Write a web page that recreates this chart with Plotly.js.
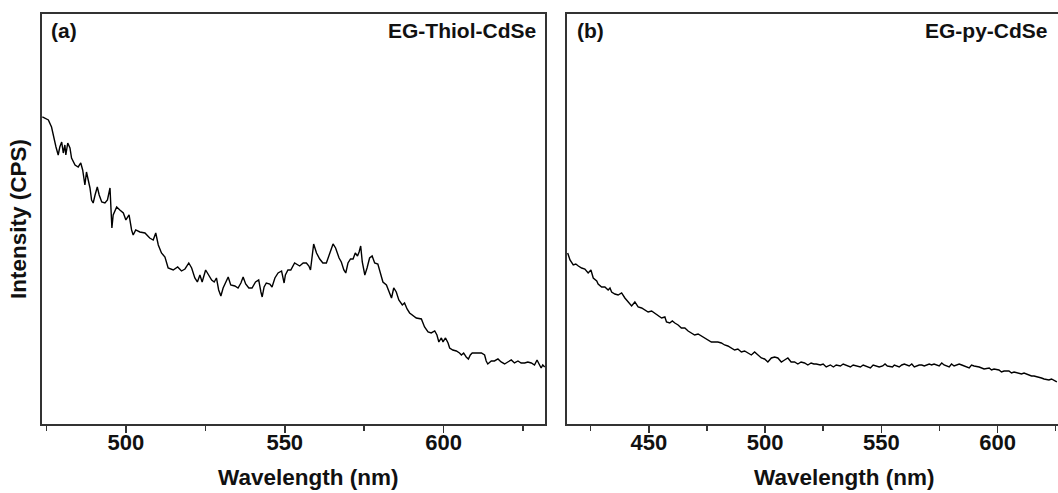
<!DOCTYPE html>
<html>
<head>
<meta charset="utf-8">
<script src="https://cdn.plot.ly/plotly-3.0.1.min.js"></script>
<style>html,body{margin:0;padding:0;background:#fff;}#chart{width:1058px;height:493px;}</style>
</head>
<body>
<div id="chart"></div>
<script>
// Panel (a): EG-Thiol-CdSe emission spectrum (wavelength nm, intensity arbitrary CPS)
const wavelengthA = [473.7,474.5,475.6,476.6,477.1,478.0,478.7,479.2,479.8,480.3,480.8,481.1,481.7,482.4,482.9,484.0,485.0,485.8,486.4,486.8,487.1,487.6,488.1,488.7,489.2,489.7,490.3,491.0,491.6,492.4,493.4,494.2,495.0,495.3,495.6,496.0,497.1,498.1,499.2,500.0,501.0,501.8,502.3,503.1,504.4,506.0,507.5,508.6,509.4,510.2,511.2,512.3,513.3,514.9,516.3,517.5,518.6,519.8,520.7,521.7,522.5,523.3,524.0,525.1,526.1,527.0,527.8,528.5,529.2,529.9,530.6,531.4,532.2,533.0,534.3,535.3,536.2,536.9,537.7,538.7,539.7,540.8,541.8,542.5,542.9,543.5,544.2,545.3,546.0,546.9,547.9,549.0,549.8,550.2,551.0,551.9,553.1,554.7,555.8,556.8,557.6,558.1,558.4,559.1,560.0,561.0,562.0,563.1,564.2,565.2,566.0,567.1,567.8,568.6,569.2,569.9,570.7,571.5,572.2,572.9,573.4,573.9,574.4,575.2,575.9,576.7,577.5,578.3,579.3,580.1,580.9,582.0,582.8,583.6,584.3,585.1,585.9,587.0,587.7,588.5,589.3,590.3,591.4,593.0,594.0,595.1,596.1,597.2,597.9,598.5,599.3,599.8,600.6,601.4,601.9,602.9,604.0,605.0,605.6,606.3,607.1,607.8,608.4,609.0,610.3,611.9,612.9,613.4,613.9,615.0,616.0,617.1,618.1,619.2,620.2,621.3,622.3,623.4,624.4,625.5,626.5,627.6,628.6,629.4,630.2,630.7,631.2,631.8];
const intensityA = [307,306,304,297,289,277,269,277,282,271,279,269,281,276,266,259,257,261,254,247,239,252,244,236,224,221,229,237,229,222,221,224,236,216,196,209,217,214,211,204,209,194,189,194,192,191,186,184,191,179,171,167,156,154,157,153,155,161,156,146,142,149,142,154,149,144,142,146,134,128,136,142,147,139,138,136,141,147,140,136,136,142,144,132,127,137,141,140,137,146,151,153,141,149,154,154,161,158,161,161,158,154,161,180,171,165,161,161,171,180,176,166,162,154,151,161,165,165,171,168,172,178,162,149,156,166,168,161,160,152,142,139,132,126,136,132,124,119,121,115,111,109,106,105,97,92,91,93,89,82,86,82,86,81,76,74,73,71,69,71,67,65,69,71,71,71,69,63,60,63,63,65,62,60,62,64,61,63,61,61,62,61,59,64,59,56,59,57];

// Panel (b): EG-py-CdSe emission spectrum
const wavelengthB = [415.1,416.1,417.5,418.6,419.7,421.1,422.5,423.9,425.1,426.1,427.6,428.2,429.7,431.1,432.5,433.3,434.0,435.4,436.8,438.3,439.7,441.1,442.6,444.0,445.4,446.9,448.3,449.7,451.2,452.6,454.0,455.5,456.9,457.6,459.0,460.1,461.2,462.6,464.0,465.5,466.9,468.3,469.7,471.2,472.6,474.0,475.5,476.9,478.3,479.7,481.2,482.6,484.0,485.5,486.9,488.3,489.8,491.2,492.6,494.1,495.5,496.9,498.4,499.8,501.2,502.7,504.1,505.5,507.0,508.4,509.8,511.2,512.7,514.1,515.5,517.0,518.4,519.8,521.0,522.0,523.8,525.0,526.3,528.1,529.4,530.6,532.4,533.6,534.8,536.7,537.9,539.1,541.0,542.2,543.4,545.3,546.5,547.7,549.1,550.6,551.6,552.6,554.8,555.6,556.4,557.7,558.8,559.9,562.0,563.1,564.2,566.3,567.4,568.5,570.6,571.6,572.7,574.9,576.0,577.0,579.2,580.2,581.3,583.5,584.6,585.6,587.8,588.8,589.9,592.1,593.2,594.2,596.4,597.4,598.5,600.6,601.7,602.8,604.9,606.0,607.1,609.2,610.3,611.4,613.5,614.6,615.7,617.8,618.9,620.0,622.1,623.2,624.2,625.5];
const intensityB = [171,164,159,160,158,156,155,151,154,146,143,140,137,137,134,136,132,130,129,131,126,122,118,122,117,116,114,112,113,111,109,106,107,102,101,103,101,99,96,96,93,91,89,90,88,86,84,82,82,82,81,79,78,76,74,75,72,73,71,69,72,69,66,65,62,66,67,66,62,64,66,62,62,60,62,61,59,61,60,60,59,60,57,59,57,59,58,60,59,57,59,58,57,59,58,56,59,58,57,58,60,58,57,59,58,57,59,60,58,60,57,59,59,58,60,59,60,58,61,59,57,60,58,60,59,58,56,59,58,57,56,55,56,54,55,54,52,53,53,51,52,51,50,51,49,48,48,47,46,45,44,45,44,42,43,41,39,41];

const ticksA = [500, 550, 600];
const minorTicksA = [475, 525, 575, 625];
const ticksB = [450, 500, 550, 600];
const minorTicksB = [425, 475, 525, 575, 625];

const FONT = 'Liberation Sans, Arial, Helvetica, sans-serif';
const lineStyle = {color: '#000', width: 1.4};

const traces = [
  {x: wavelengthA, y: intensityA, type: 'scatter', mode: 'lines', line: lineStyle, xaxis: 'x', yaxis: 'y', hoverinfo: 'skip'},
  {x: wavelengthB, y: intensityB, type: 'scatter', mode: 'lines', line: lineStyle, xaxis: 'x2', yaxis: 'y2', hoverinfo: 'skip'}
];

function xax(domain, range, tv, mtv, anchor) {
  return {
    domain: domain, range: range, anchor: anchor,
    tickmode: 'array', tickvals: tv, ticktext: tv.map(String),
    ticks: 'outside', ticklen: 7, tickwidth: 1.5, tickcolor: '#333',
    ticklabelstandoff: -9,
    minor: {tickmode: 'array', tickvals: mtv, ticks: 'outside', ticklen: 5, tickwidth: 1.5, tickcolor: '#333', showgrid: false},
    showline: true, mirror: true, linecolor: '#333', linewidth: 1.6,
    showgrid: false, zeroline: false,
    tickfont: {family: FONT, size: 22, weight: 700, color: '#111'}
  };
}
function yax(domain, anchor) {
  return {
    domain: domain, range: [0, 410], anchor: anchor,
    showticklabels: false, ticks: '',
    showline: true, mirror: true, linecolor: '#333', linewidth: 1.6,
    showgrid: false, zeroline: false
  };
}

const txt = {family: FONT, size: 21, weight: 700, color: '#111'};
const ttl = {family: FONT, size: 22.5, weight: 700, color: '#111'};
const layout = {
  width: 1058, height: 493,
  margin: {l: 0, r: 0, t: 0, b: 0},
  paper_bgcolor: '#fff', plot_bgcolor: '#fff',
  showlegend: false,
  xaxis: xax([0.0397, 0.5151], [473.6, 631.9], ticksA, minorTicksA, 'y'),
  yaxis: yax([0.14, 0.9716], 'x'),
  xaxis2: xax([0.5359, 1.0], [414.8, 626.0], ticksB, minorTicksB, 'y2'),
  yaxis2: yax([0.14, 0.9716], 'x2'),
  annotations: [
    {text: '(a)', xref: 'x domain', yref: 'y domain', x: 0.014, y: 0.96, xanchor: 'left', yanchor: 'middle', showarrow: false, font: txt},
    {text: 'EG-Thiol-CdSe', xref: 'x domain', yref: 'y domain', x: 0.986, y: 0.96, xanchor: 'right', yanchor: 'middle', showarrow: false, font: txt},
    {text: '(b)', xref: 'x2 domain', yref: 'y2 domain', x: 0.016, y: 0.96, xanchor: 'left', yanchor: 'middle', showarrow: false, font: txt},
    {text: 'EG-py-CdSe', xref: 'x2 domain', yref: 'y2 domain', x: 0.984, y: 0.96, xanchor: 'right', yanchor: 'middle', showarrow: false, font: txt},
    {text: 'Wavelength (nm)', xref: 'paper', yref: 'paper', x: 308 / 1058, y: (493 - 477) / 493, xanchor: 'center', yanchor: 'middle', showarrow: false, font: ttl},
    {text: 'Wavelength (nm)', xref: 'paper', yref: 'paper', x: 844 / 1058, y: (493 - 477) / 493, xanchor: 'center', yanchor: 'middle', showarrow: false, font: ttl},
    {text: 'Intensity (CPS)', xref: 'paper', yref: 'paper', x: 18 / 1058, y: (493 - 219) / 493, xanchor: 'center', yanchor: 'middle', textangle: -90, showarrow: false, font: ttl}
  ]
};

Plotly.newPlot('chart', traces, layout, {staticPlot: true, displayModeBar: false});
</script>
</body>
</html>
